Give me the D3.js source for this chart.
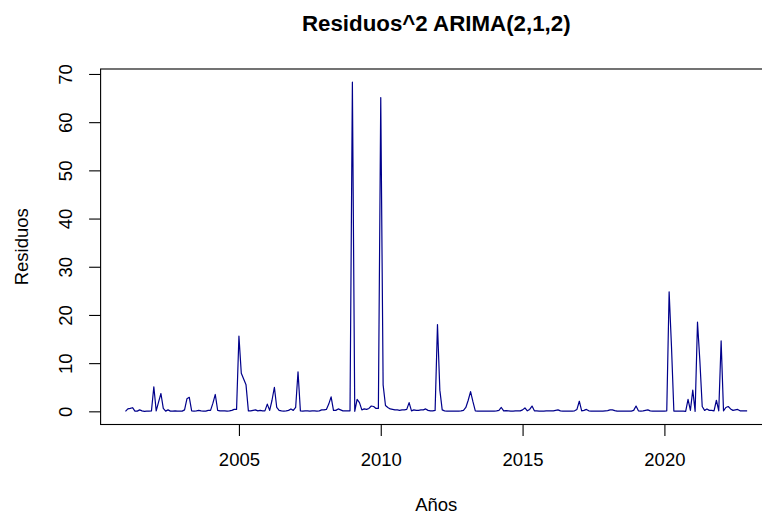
<!DOCTYPE html>
<html><head><meta charset="utf-8">
<script src="https://cdn.jsdelivr.net/npm/d3@7"></script>
<style>
html,body{margin:0;padding:0;background:#fff;}
svg{display:block;font-family:"Liberation Sans",Arial,Helvetica,sans-serif;}
</style></head>
<body><svg id="chart" width="762" height="516"></svg>
<script>
const title = "Residuos^2 ARIMA(2,1,2)";
const xLabel = "Años";
const yLabel = "Residuos";
const startYear = 2001;   // monthly series, Jan 2001 .. Dec 2022
const xTicks = [2005, 2010, 2015, 2020];
const yTicks = [0, 10, 20, 30, 40, 50, 60, 70];
const residuos2 = [
  0.0, 0.5, 0.6, 0.75, 0.05, 0.05, 0.3, 0.1, 0.0, 0.05, 0.05, 0.1,
  5.1, 0.1, 1.9, 3.7, 0.6, 0.05, 0.3, 0.05, 0.05, 0.1, 0.05, 0.05,
  0.05, 0.3, 2.6, 2.9, 0.1, 0.05, 0.1, 0.2, 0.1, 0.05, 0.05, 0.2,
  0.2, 1.7, 3.5, 0.2, 0.1, 0.1, 0.1, 0.05, 0.1, 0.2, 0.4, 0.4,
  15.6, 7.9, 6.7, 5.5, 0.1, 0.1, 0.2, 0.3, 0.1, 0.2, 0.1, 0.1,
  1.5, 0.2, 2.3, 5.0, 0.8, 0.2, 0.1, 0.05, 0.1, 0.2, 0.5, 0.2,
  0.8, 8.2, 0.1, 0.05, 0.1, 0.1, 0.05, 0.1, 0.1, 0.05, 0.1, 0.3,
  0.3, 0.4, 1.5, 3.0, 0.2, 0.2, 0.5, 0.3, 0.1, 0.1, 0.1, 0.1,
  68.3, 0.0, 2.5, 1.8, 0.3, 0.5, 0.4, 0.6, 1.1, 1.0, 0.6, 0.6,
  65.1, 5.5, 1.2, 0.8, 0.5, 0.4, 0.3, 0.3, 0.2, 0.3, 0.3, 0.4,
  1.8, 0.1, 0.3, 0.2, 0.2, 0.3, 0.3, 0.5, 0.2, 0.1, 0.1, 0.2,
  18.0, 4.4, 0.3, 0.1, 0.05, 0.05, 0.05, 0.05, 0.05, 0.05, 0.1, 0.2,
  0.8, 2.3, 4.1, 2.0, 0.1, 0.05, 0.05, 0.05, 0.05, 0.05, 0.05, 0.05,
  0.05, 0.1, 0.2, 0.8, 0.1, 0.15, 0.1, 0.05, 0.05, 0.1, 0.1, 0.1,
  0.3, 0.7, 0.1, 0.4, 1.1, 0.1, 0.1, 0.05, 0.05, 0.05, 0.1, 0.1,
  0.1, 0.1, 0.2, 0.3, 0.1, 0.05, 0.05, 0.05, 0.05, 0.05, 0.1, 0.4,
  2.1, 0.1, 0.2, 0.4, 0.1, 0.05, 0.05, 0.05, 0.05, 0.05, 0.05, 0.1,
  0.15, 0.3, 0.3, 0.15, 0.05, 0.05, 0.05, 0.05, 0.05, 0.05, 0.05, 0.2,
  1.1, 0.1, 0.05, 0.1, 0.2, 0.3, 0.1, 0.05, 0.05, 0.05, 0.05, 0.05,
  0.05, 0.1, 24.8, 13.4, 0.05, 0.05, 0.05, 0.05, 0.05, 0.0, 2.5, 0.2,
  4.4, 0.0, 18.5, 10.5, 1.0, 0.2, 0.5, 0.2, 0.2, 0.1, 2.3, 0.1,
  14.6, 0.1, 0.8, 1.0, 0.5, 0.2, 0.3, 0.4, 0.1, 0.1, 0.1, 0.1
];

const data = residuos2.map((v, i) => ({t: startYear + i / 12, v}));

// plot region (R-like)
const plot = {left: 100.6, right: 772, top: 69, bottom: 424.5};
const svg = d3.select("#chart");

function pad(ext){ const d = (ext[1]-ext[0])*0.04; return [ext[0]-d, ext[1]+d]; }
const x = d3.scaleLinear().domain(pad(d3.extent(data, d => d.t))).range([plot.left, plot.right]);
const y = d3.scaleLinear().domain(pad(d3.extent(data, d => d.v))).range([plot.bottom, plot.top]);

const fs = 18.5;

// line
svg.append("path")
  .datum(data)
  .attr("fill", "none")
  .attr("stroke", "#00008B")
  .attr("stroke-width", 1.2)
  .attr("stroke-linejoin", "round")
  .attr("d", d3.line().x(d => x(d.t)).y(d => y(d.v)));

// box
svg.append("rect")
  .attr("x", plot.left).attr("y", plot.top)
  .attr("width", plot.right - plot.left).attr("height", plot.bottom - plot.top)
  .attr("fill", "none").attr("stroke", "#000").attr("stroke-width", 1.1);

// x axis
const xAxis = d3.axisBottom(x).tickValues(xTicks).tickSize(11.5).tickPadding(17).tickFormat(d3.format("d"));
const gx = svg.append("g").attr("transform", `translate(0,${plot.bottom})`).call(xAxis);
gx.select(".domain").remove();
gx.selectAll("line").attr("stroke", "#000").attr("stroke-width", 1.1);
gx.selectAll("text").attr("font-size", fs).attr("fill", "#000").attr("font-family", null);

// y axis
const yAxis = d3.axisLeft(y).tickValues(yTicks).tickSize(11.5).tickFormat(d3.format("d"));
const gy = svg.append("g").attr("transform", `translate(${plot.left},0)`).call(yAxis);
gy.select(".domain").remove();
gy.selectAll("line").attr("stroke", "#000").attr("stroke-width", 1.1);
gy.selectAll("text")
  .attr("font-size", fs).attr("fill", "#000").attr("font-family", null)
  .attr("x", null).attr("dy", null)
  .attr("text-anchor", "middle")
  .attr("transform", "translate(-29,0) rotate(-90)");

// titles
svg.append("text")
  .attr("x", (plot.left + plot.right) / 2).attr("y", 30.7)
  .attr("text-anchor", "middle").attr("font-weight", "bold").attr("font-size", 22.3)
  .text(title);
svg.append("text")
  .attr("x", (plot.left + plot.right) / 2).attr("y", 511)
  .attr("text-anchor", "middle").attr("font-size", fs)
  .text(xLabel);
svg.append("text")
  .attr("transform", `translate(27.5,${(plot.top + plot.bottom) / 2}) rotate(-90)`)
  .attr("text-anchor", "middle").attr("font-size", fs)
  .text(yLabel);
</script>
</body></html>
